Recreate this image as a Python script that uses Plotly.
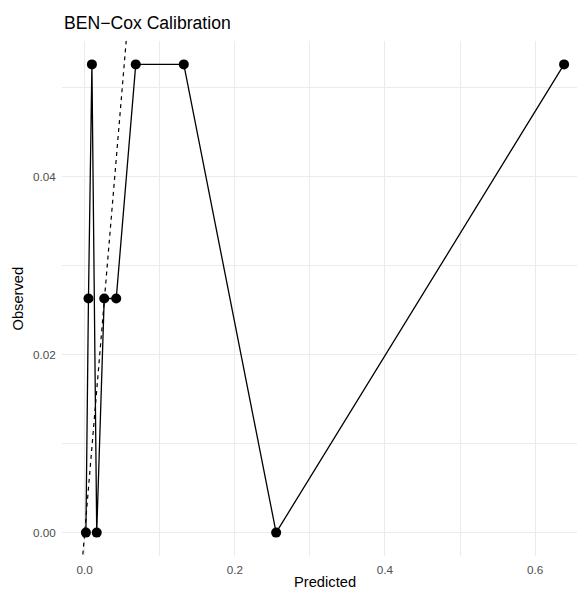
import plotly.graph_objects as go

# Calibration data
predicted = [0.0016, 0.005, 0.0096, 0.016, 0.026, 0.042, 0.068, 0.132, 0.255, 0.6386]
observed = [0.0, 1/38, 1/19, 0.0, 1/38, 1/38, 1/19, 1/19, 0.0, 1/19]

x_ticks = [0.0, 0.2, 0.4, 0.6]
x_tick_labels = ["0.0", "0.2", "0.4", "0.6"]
y_ticks = [0.00, 0.02, 0.04]
y_tick_labels = ["0.00", "0.02", "0.04"]

title_text = "BEN\u2212Cox Calibration"
x_title = "Predicted"
y_title = "Observed"

W, H = 577, 590
ML, MR, MT, MB = 62, 0, 41, 34

# ggplot-like expansion (5%)
xr = max(predicted) - min(predicted)
x_lo = min(predicted) - 0.05 * xr
x_hi_full = max(predicted) + 0.05 * xr
yr = max(observed) - min(observed)
y_lo = min(observed) - 0.05 * yr
y_hi = max(observed) + 0.05 * yr

# the visible panel is cut at the right edge of the picture
full_panel_w = (x_hi_full - x_lo)
x_hi = x_lo + full_panel_w * (W - ML - MR) / (588 - ML)

fig = go.Figure()

# identity line (slope 1, intercept 0)
fig.add_trace(go.Scatter(
    x=[x_lo, x_hi], y=[x_lo, x_hi], mode="lines",
    line=dict(color="black", width=1.2, dash="4px,4px"),
    hoverinfo="skip", showlegend=False))

fig.add_trace(go.Scatter(
    x=predicted, y=observed, mode="lines+markers",
    line=dict(color="black", width=1.3),
    marker=dict(color="black", size=10),
    showlegend=False, cliponaxis=False))

minor_grid = dict(showgrid=True, gridcolor="#EBEBEB", gridwidth=0.6)
tick_font = dict(size=11.7, color="#4D4D4D",
                 family="Liberation Sans, Arial, sans-serif")

fig.update_layout(
    template="none",
    width=W, height=H,
    margin=dict(l=ML, r=MR, t=MT, b=MB, pad=0),
    paper_bgcolor="white", plot_bgcolor="white",
    font=dict(family="Liberation Sans, Arial, sans-serif", color="black"),
    xaxis=dict(range=[x_lo, x_hi], tickvals=x_ticks, ticktext=x_tick_labels,
               showgrid=True, gridcolor="#EBEBEB", gridwidth=1.1,
               zeroline=False, showline=False, ticks="outside", ticklen=3,
               tickcolor="rgba(0,0,0,0)", tickfont=tick_font,
               minor=dict(tickvals=[0.1, 0.3, 0.5], **minor_grid)),
    yaxis=dict(range=[y_lo, y_hi], tickvals=y_ticks, ticktext=y_tick_labels,
               showgrid=True, gridcolor="#EBEBEB", gridwidth=1.1,
               zeroline=False, showline=False, ticks="outside", ticklen=3,
               tickcolor="rgba(0,0,0,0)", tickfont=tick_font,
               minor=dict(tickvals=[0.01, 0.03, 0.05], **minor_grid)),
    annotations=[
        dict(text=title_text, xref="paper", yref="paper", x=0, y=1,
             xanchor="left", yanchor="bottom", yshift=6, showarrow=False,
             font=dict(size=17.6, color="black")),
        dict(text=x_title, xref="paper", yref="paper",
             x=((588 + ML) / 2 - ML) / (W - ML - MR), y=0,
             xanchor="center", yanchor="top", yshift=-16, showarrow=False,
             font=dict(size=14.7, color="black")),
        dict(text=y_title, xref="paper", yref="paper", x=0, y=0.5,
             xanchor="right", yanchor="middle", xshift=-35, textangle=-90,
             showarrow=False, font=dict(size=14.7, color="black")),
    ],
)

fig.write_html("out.html")
